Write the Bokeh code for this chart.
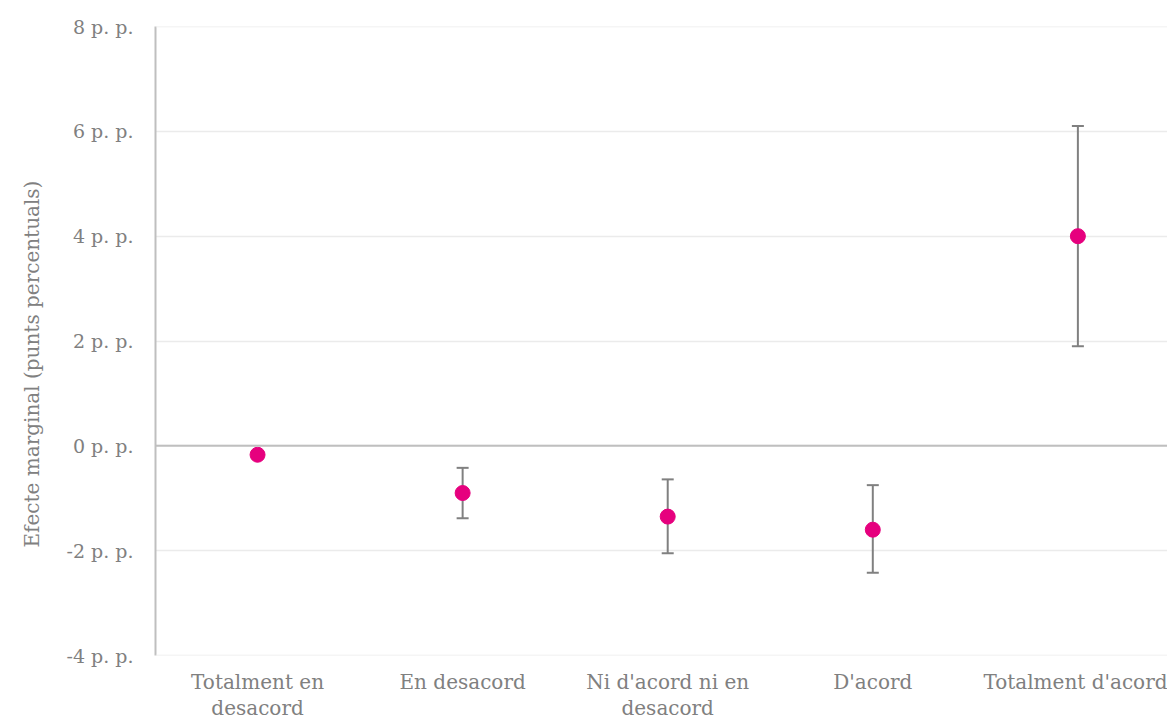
from bokeh.plotting import figure
from bokeh.models import ColumnDataSource, Whisker, Span, FixedTicker, Range1d, TeeHead, Title
from bokeh.embed import file_html
from bokeh.resources import INLINE

categories = ["Totalment en\ndesacord", "En desacord", "Ni d'acord ni en\ndesacord", "D'acord", "Totalment d'acord"]
effect = [-0.17, -0.9, -1.35, -1.6, 4.0]
lower = [-0.19, -1.38, -2.05, -2.42, 1.9]
upper = [-0.15, -0.42, -0.64, -0.75, 6.1]
y_ticks = [-4, -2, 0, 2, 4, 6, 8]
y_labels = ["-4 p. p.", "-2 p. p.", "0 p. p.", "2 p. p.", "4 p. p.", "6 p. p.", "8 p. p."]
y_title = "Efecte marginal (punts percentuals)"

xs = list(range(len(categories)))
src = ColumnDataSource(dict(x=xs, y=effect, lo=lower, hi=upper))

FONT = "DejaVu Serif"
GRAY = "#808080"

X0, X1 = -0.4976, 4.437
p = figure(width=1167, height=722, output_backend="svg", toolbar_location=None,
           x_range=Range1d(X0, X1), y_range=Range1d(y_ticks[0], y_ticks[-1]),
           min_border_left=155, min_border_right=0, min_border_top=26, min_border_bottom=67)
p.outline_line_color = None

p.xaxis.ticker = FixedTicker(ticks=xs)
p.xaxis.major_label_overrides = {i: c for i, c in zip(xs, categories)}
p.xaxis.axis_line_color = None
p.xaxis.major_tick_line_color = None
p.xaxis.minor_tick_line_color = None
p.xaxis.major_label_standoff = 8
p.xaxis.major_label_text_font = FONT
p.xaxis.major_label_text_font_size = "20px"
p.xaxis.major_label_text_color = GRAY
p.xaxis.major_label_text_line_height = 1.1
p.xgrid.grid_line_color = None

p.yaxis.ticker = FixedTicker(ticks=y_ticks)
p.yaxis.major_label_overrides = {t: l for t, l in zip(y_ticks, y_labels)}
p.yaxis.axis_line_color = "#bfbfbf"
p.yaxis.axis_line_width = 2
p.yaxis.major_tick_line_color = None
p.yaxis.minor_tick_line_color = None
p.yaxis.major_label_standoff = 16
p.yaxis.major_label_text_font = FONT
p.yaxis.major_label_text_font_size = "19px"
p.yaxis.major_label_text_color = GRAY
p.ygrid.grid_line_color = "#ebebeb"
p.ygrid.grid_line_width = 1.5

# y-axis title, centred a little below the frame centre as in the reference
p.add_layout(Title(text=y_title, align="left", offset=108, standoff=35, vertical_align="top",
                   text_font=FONT, text_font_size="20px", text_font_style="normal",
                   text_color=GRAY), "left")

for loc in (y_ticks[0], y_ticks[-1]):
    p.add_layout(Span(location=loc, dimension="width", line_color="#ebebeb", line_width=1.5))
p.add_layout(Span(location=0, dimension="width", line_color="#bfbfbf", line_width=2))

w = Whisker(base="x", lower="lo", upper="hi", source=src, dimension="height",
            line_color=GRAY, line_width=2,
            upper_head=TeeHead(size=12, line_color=GRAY, line_width=2),
            lower_head=TeeHead(size=12, line_color=GRAY, line_width=2))
p.add_layout(w)

p.scatter("x", "y", source=src, size=15, fill_color="#e6007e", line_color="#e6007e")

open("out.html", "w").write(file_html(p, INLINE))
